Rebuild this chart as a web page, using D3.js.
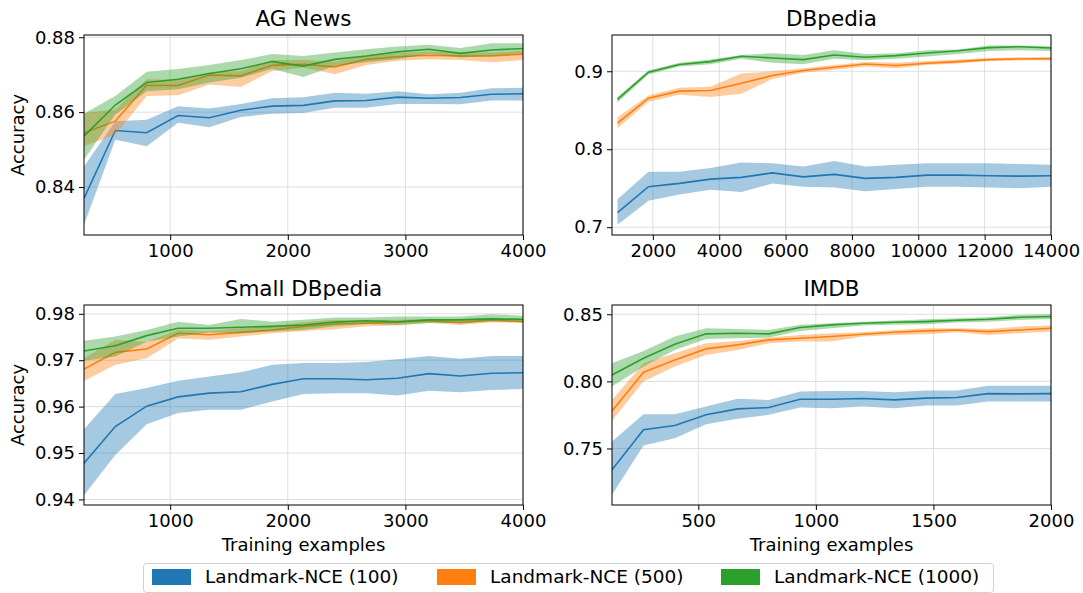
<!DOCTYPE html>
<html>
<head>
<meta charset="utf-8">
<script src="https://cdn.jsdelivr.net/npm/d3@7"></script>
<style>
  body { margin: 0; background: #fff; }
  text { font-family: "DejaVu Sans", sans-serif; fill: #000; }
</style>
</head>
<body>
<script>
var width = 1083,
    height = 593;

var seriesNames = ['Landmark-NCE (100)', 'Landmark-NCE (500)', 'Landmark-NCE (1000)'];
var colors = ['#1f77b4', '#ff7f0e', '#2ca02c'];

// AG News
var agX = [267, 533, 800, 1067, 1333, 1600, 1867, 2133, 2400, 2667, 2933, 3200, 3467, 3733, 4000];
var ag100 = [0.8370, 0.8551, 0.8545, 0.8591, 0.8585, 0.8605, 0.8616, 0.8618, 0.8630, 0.8631, 0.8640, 0.8637, 0.8639, 0.8648, 0.8649];
var ag100Lo = [0.8299, 0.8526, 0.8509, 0.8572, 0.8560, 0.8587, 0.8596, 0.8598, 0.8612, 0.8612, 0.8622, 0.8622, 0.8621, 0.8631, 0.8631];
var ag100Hi = [0.8455, 0.8576, 0.8580, 0.8616, 0.8610, 0.8622, 0.8637, 0.8640, 0.8652, 0.8649, 0.8656, 0.8648, 0.8652, 0.8664, 0.8665];
var ag500 = [0.8545, 0.8576, 0.8672, 0.8671, 0.8699, 0.8697, 0.8725, 0.8728, 0.8721, 0.8741, 0.8748, 0.8752, 0.8750, 0.8750, 0.8755];
var ag500Lo = [0.8509, 0.8540, 0.8643, 0.8645, 0.8674, 0.8667, 0.8710, 0.8719, 0.8701, 0.8726, 0.8737, 0.8741, 0.8739, 0.8733, 0.8739];
var ag500Hi = [0.8598, 0.8607, 0.8688, 0.8686, 0.8706, 0.8710, 0.8739, 0.8739, 0.8735, 0.8750, 0.8757, 0.8762, 0.8759, 0.8759, 0.8764];
var ag1000 = [0.8536, 0.8619, 0.8679, 0.8688, 0.8703, 0.8716, 0.8735, 0.8723, 0.8741, 0.8750, 0.8761, 0.8768, 0.8757, 0.8766, 0.8770];
var ag1000Lo = [0.8473, 0.8594, 0.8656, 0.8661, 0.8679, 0.8692, 0.8715, 0.8694, 0.8723, 0.8733, 0.8741, 0.8755, 0.8746, 0.8750, 0.8757];
var ag1000Hi = [0.8596, 0.8643, 0.8708, 0.8715, 0.8726, 0.8739, 0.8755, 0.8750, 0.8759, 0.8768, 0.8775, 0.8780, 0.8771, 0.8784, 0.8784];

// DBpedia
var dbX = [933, 1867, 2800, 3733, 4667, 5600, 6533, 7467, 8400, 9333, 10267, 11200, 12133, 13067, 14000];
var db100 = [0.7187, 0.7519, 0.7562, 0.7617, 0.7639, 0.7697, 0.7646, 0.7677, 0.7626, 0.7639, 0.7668, 0.7668, 0.7659, 0.7655, 0.7659];
var db100Lo = [0.703, 0.734, 0.742, 0.748, 0.745, 0.756, 0.752, 0.751, 0.746, 0.749, 0.752, 0.752, 0.751, 0.750, 0.752];
var db100Hi = [0.736, 0.771, 0.771, 0.776, 0.783, 0.782, 0.778, 0.785, 0.778, 0.780, 0.782, 0.782, 0.782, 0.781, 0.780];
var db500 = [0.8336, 0.8655, 0.8745, 0.8753, 0.8847, 0.8945, 0.9009, 0.9051, 0.9094, 0.9073, 0.9102, 0.9124, 0.9149, 0.9158, 0.9162];
var db500Lo = [0.827, 0.861, 0.870, 0.867, 0.871, 0.890, 0.898, 0.902, 0.906, 0.904, 0.908, 0.910, 0.913, 0.914, 0.914];
var db500Hi = [0.841, 0.869, 0.879, 0.880, 0.897, 0.900, 0.904, 0.908, 0.912, 0.911, 0.913, 0.915, 0.917, 0.918, 0.918];
var db1000 = [0.8639, 0.8987, 0.9086, 0.9124, 0.9192, 0.9171, 0.9149, 0.9209, 0.9179, 0.9200, 0.9235, 0.9264, 0.9303, 0.9315, 0.9298];
var db1000Lo = [0.860, 0.896, 0.906, 0.909, 0.916, 0.911, 0.909, 0.916, 0.914, 0.916, 0.919, 0.922, 0.926, 0.927, 0.926];
var db1000Hi = [0.867, 0.901, 0.911, 0.915, 0.921, 0.923, 0.921, 0.927, 0.922, 0.923, 0.927, 0.928, 0.933, 0.933, 0.932];

// Small DBpedia
var sdX = [267, 533, 800, 1067, 1333, 1600, 1867, 2133, 2400, 2667, 2933, 3200, 3467, 3733, 4000];
var sd100 = [0.9478, 0.9557, 0.9601, 0.9621, 0.9629, 0.9632, 0.9648, 0.9660, 0.9660, 0.9658, 0.9661, 0.9671, 0.9666, 0.9672, 0.9673];
var sd100Lo = [0.9409, 0.9496, 0.9562, 0.9586, 0.9593, 0.9593, 0.9611, 0.9627, 0.9629, 0.9629, 0.9624, 0.9634, 0.9631, 0.9636, 0.9638];
var sd100Hi = [0.9551, 0.9627, 0.9640, 0.9656, 0.9665, 0.9674, 0.9690, 0.9694, 0.9694, 0.9696, 0.9702, 0.9709, 0.9703, 0.9709, 0.9709];
var sd500 = [0.9681, 0.9717, 0.9724, 0.9758, 0.9755, 0.9760, 0.9765, 0.9773, 0.9778, 0.9780, 0.9782, 0.9785, 0.9781, 0.9787, 0.9783];
var sd500Lo = [0.9655, 0.9690, 0.9704, 0.9747, 0.9744, 0.9751, 0.9758, 0.9763, 0.9767, 0.9773, 0.9775, 0.9780, 0.9776, 0.9782, 0.9780];
var sd500Hi = [0.9704, 0.9744, 0.9740, 0.9765, 0.9763, 0.9769, 0.9773, 0.9782, 0.9787, 0.9787, 0.9787, 0.9789, 0.9789, 0.9792, 0.9789];
var sd1000 = [0.9720, 0.9731, 0.9753, 0.9769, 0.9769, 0.9771, 0.9773, 0.9776, 0.9782, 0.9785, 0.9783, 0.9787, 0.9787, 0.9789, 0.9788];
var sd1000Lo = [0.9699, 0.9708, 0.9740, 0.9751, 0.9760, 0.9758, 0.9762, 0.9765, 0.9773, 0.9778, 0.9776, 0.9780, 0.9780, 0.9783, 0.9783];
var sd1000Hi = [0.9742, 0.9751, 0.9765, 0.9783, 0.9776, 0.9789, 0.9783, 0.9787, 0.9792, 0.9792, 0.9794, 0.9794, 0.9794, 0.9799, 0.9796];

// IMDB
var imX = [133, 267, 400, 533, 667, 800, 933, 1067, 1200, 1333, 1467, 1600, 1733, 1867, 2000];
var im100 = [0.7341, 0.7639, 0.7671, 0.7751, 0.7795, 0.7805, 0.7867, 0.7867, 0.7872, 0.7862, 0.7875, 0.7880, 0.7909, 0.7907, 0.7909];
var im100Lo = [0.7155, 0.7522, 0.7577, 0.7681, 0.7721, 0.7751, 0.7805, 0.7800, 0.7813, 0.7800, 0.7820, 0.7820, 0.7850, 0.7850, 0.7850];
var im100Hi = [0.7552, 0.7756, 0.7756, 0.7813, 0.7870, 0.7862, 0.7924, 0.7929, 0.7929, 0.7919, 0.7932, 0.7932, 0.7967, 0.7967, 0.7967];
var im500 = [0.7780, 0.8068, 0.8160, 0.8242, 0.8272, 0.8309, 0.8321, 0.8334, 0.8351, 0.8366, 0.8376, 0.8383, 0.8371, 0.8383, 0.8396];
var im500Lo = [0.7706, 0.7999, 0.8110, 0.8197, 0.8234, 0.8284, 0.8297, 0.8297, 0.8334, 0.8346, 0.8351, 0.8366, 0.8346, 0.8359, 0.8371];
var im500Hi = [0.7862, 0.8135, 0.8210, 0.8284, 0.8301, 0.8326, 0.8346, 0.8359, 0.8366, 0.8383, 0.8396, 0.8396, 0.8391, 0.8408, 0.8416];
var im1000 = [0.8048, 0.8172, 0.8277, 0.8354, 0.8359, 0.8354, 0.8401, 0.8421, 0.8433, 0.8440, 0.8445, 0.8455, 0.8463, 0.8478, 0.8483];
var im1000Lo = [0.7962, 0.8110, 0.8234, 0.8316, 0.8321, 0.8326, 0.8376, 0.8396, 0.8416, 0.8421, 0.8426, 0.8438, 0.8445, 0.8458, 0.8465];
var im1000Hi = [0.8135, 0.8227, 0.8334, 0.8396, 0.8391, 0.8383, 0.8421, 0.8433, 0.8445, 0.8453, 0.8463, 0.8470, 0.8478, 0.8495, 0.8500];

// tick values
var agXTicks = [1000, 2000, 3000, 4000], agYTicks = [0.84, 0.86, 0.88];
var dbXTicks = [2000, 4000, 6000, 8000, 10000, 12000, 14000], dbYTicks = [0.7, 0.8, 0.9];
var sdXTicks = [1000, 2000, 3000, 4000], sdYTicks = [0.94, 0.95, 0.96, 0.97, 0.98];
var imXTicks = [500, 1000, 1500, 2000], imYTicks = [0.75, 0.80, 0.85];

var panels = [
    {
        title: 'AG News', left: 84, top: 35, xDomain: [267, 4000], yDomain: [0.8272, 0.8806],
        xTicks: agXTicks, yTicks: agYTicks, yFmt: '.2f', x: agX, ylabel: true, xlabel: false,
        mean: [ag100, ag500, ag1000], lo: [ag100Lo, ag500Lo, ag1000Lo], hi: [ag100Hi, ag500Hi, ag1000Hi]
    },
    {
        title: 'DBpedia', left: 612, top: 35, xDomain: [768, 14000], yDomain: [0.690, 0.9465],
        xTicks: dbXTicks, yTicks: dbYTicks, yFmt: '.1f', x: dbX, ylabel: false, xlabel: false,
        mean: [db100, db500, db1000], lo: [db100Lo, db500Lo, db1000Lo], hi: [db100Hi, db500Hi, db1000Hi]
    },
    {
        title: 'Small DBpedia', left: 84, top: 305, xDomain: [267, 4000], yDomain: [0.9388, 0.9819],
        xTicks: sdXTicks, yTicks: sdYTicks, yFmt: '.2f', x: sdX, ylabel: true, xlabel: true,
        mean: [sd100, sd500, sd1000], lo: [sd100Lo, sd500Lo, sd1000Lo], hi: [sd100Hi, sd500Hi, sd1000Hi]
    },
    {
        title: 'IMDB', left: 612, top: 305, xDomain: [133, 2000], yDomain: [0.7079, 0.8569],
        xTicks: imXTicks, yTicks: imYTicks, yFmt: '.2f', x: imX, ylabel: false, xlabel: true,
        mean: [im100, im500, im1000], lo: [im100Lo, im500Lo, im1000Lo], hi: [im100Hi, im500Hi, im1000Hi]
    }
];

var pw = 439,
    ph = 200;

var svg = d3.select('body')
    .append('svg')
    .attr('width', width)
    .attr('height', height);

panels.forEach(function (p, pi) {
    var g = svg.append('g')
        .attr('transform', 'translate(' + p.left + ',' + p.top + ')');

    var x = d3.scaleLinear().domain(p.xDomain).range([0, pw]);
    var y = d3.scaleLinear().domain(p.yDomain).range([ph, 0]);

    g.append('clipPath')
        .attr('id', 'clip' + pi)
        .append('rect')
        .attr('width', pw)
        .attr('height', ph);

    // grid
    g.selectAll('.gx')
        .data(p.xTicks)
        .enter()
        .append('line')
        .attr('x1', function (d) { return x(d); })
        .attr('x2', function (d) { return x(d); })
        .attr('y1', 0)
        .attr('y2', ph)
        .attr('stroke', '#dedede')
        .attr('stroke-width', 1);
    g.selectAll('.gy')
        .data(p.yTicks)
        .enter()
        .append('line')
        .attr('x1', 0)
        .attr('x2', pw)
        .attr('y1', function (d) { return y(d); })
        .attr('y2', function (d) { return y(d); })
        .attr('stroke', '#dedede')
        .attr('stroke-width', 1);

    var plot = g.append('g').attr('clip-path', 'url(#clip' + pi + ')');

    p.mean.forEach(function (m, si) {
        var rows = p.x.map(function (xv, i) {
            return { x: xv, m: m[i], lo: p.lo[si][i], hi: p.hi[si][i] };
        });

        var area = d3.area()
            .x(function (d) { return x(d.x); })
            .y0(function (d) { return y(d.lo); })
            .y1(function (d) { return y(d.hi); });

        var line = d3.line()
            .x(function (d) { return x(d.x); })
            .y(function (d) { return y(d.m); });

        plot.append('path')
            .datum(rows)
            .attr('d', area)
            .attr('fill', colors[si])
            .attr('fill-opacity', 0.4);

        plot.append('path')
            .datum(rows)
            .attr('d', line)
            .attr('fill', 'none')
            .attr('stroke', colors[si])
            .attr('stroke-width', 1.6);
    });

    // axes
    var xAxis = g.append('g')
        .attr('transform', 'translate(0,' + ph + ')')
        .call(d3.axisBottom(x).tickValues(p.xTicks).tickFormat(d3.format('d')).tickSize(5).tickPadding(4));
    var yAxis = g.append('g')
        .call(d3.axisLeft(y).tickValues(p.yTicks).tickFormat(d3.format(p.yFmt)).tickSize(5).tickPadding(4));

    [xAxis, yAxis].forEach(function (a) {
        a.select('.domain').remove();
        a.selectAll('line').attr('stroke', '#000');
        a.selectAll('text')
            .style('font-family', '"DejaVu Sans", sans-serif')
            .style('font-size', '18px')
            .attr('fill', '#000');
    });

    g.append('rect')
        .attr('width', pw)
        .attr('height', ph)
        .attr('fill', 'none')
        .attr('stroke', '#000')
        .attr('stroke-width', 1);

    g.append('text')
        .attr('x', pw / 2)
        .attr('y', -9)
        .attr('text-anchor', 'middle')
        .style('font-size', '21.5px')
        .text(p.title);

    if (p.ylabel) {
        g.append('text')
            .attr('transform', 'translate(' + (-60) + ',' + (ph / 2) + ') rotate(-90)')
            .attr('text-anchor', 'middle')
            .style('font-size', '18px')
            .text('Accuracy');
    }
    if (p.xlabel) {
        g.append('text')
            .attr('x', pw / 2)
            .attr('y', ph + 46)
            .attr('text-anchor', 'middle')
            .style('font-size', '18px')
            .text('Training examples');
    }
});

// legend
var legend = svg.append('g');
legend.append('rect')
    .attr('x', 143.5)
    .attr('y', 563.5)
    .attr('width', 850)
    .attr('height', 29)
    .attr('rx', 3)
    .attr('fill', '#fff')
    .attr('stroke', '#d0d0d0');

var legendX = [152, 437, 721];
legend.selectAll('.item')
    .data(seriesNames)
    .enter()
    .append('g')
    .attr('transform', function (d, i) { return 'translate(' + legendX[i] + ',569)'; })
    .each(function (d, i) {
        var it = d3.select(this);
        it.append('rect')
            .attr('width', 39)
            .attr('height', 16)
            .attr('fill', colors[i]);
        it.append('text')
            .attr('x', 53)
            .attr('y', 14)
            .style('font-size', '18.5px')
            .text(d);
    });
</script>
</body>
</html>
